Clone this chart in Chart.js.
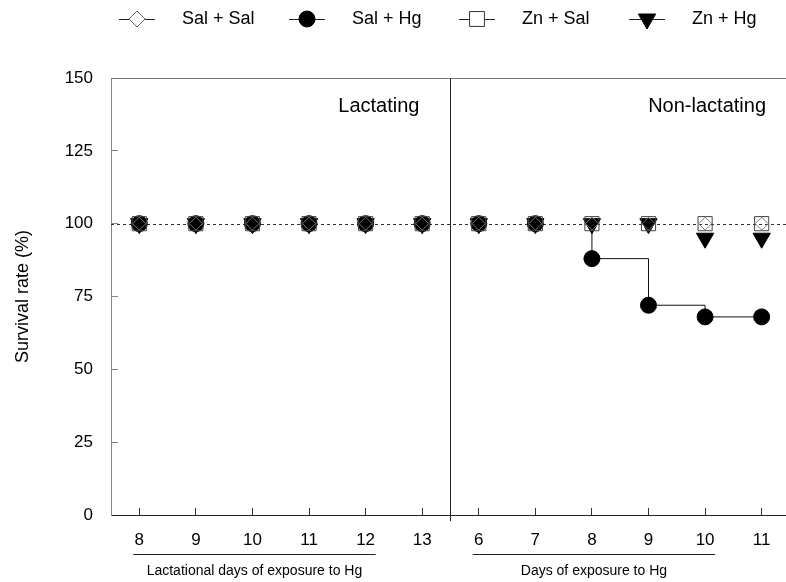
<!DOCTYPE html>
<html>
<head>
<meta charset="utf-8">
<script src="https://cdn.jsdelivr.net/npm/chart.js@4.4.0/dist/chart.umd.min.js"></script>
<style>
  html, body { margin: 0; padding: 0; background: #fff; overflow: hidden; }
</style>
</head>
<body>
<canvas id="c" width="786" height="582"></canvas>
<script>
// --- data ---
const dayLabels = ['8', '9', '10', '11', '12', '13', '6', '7', '8', '9', '10', '11'];
const salSal = [100, 100, 100, 100, 100, 100, 100, 100, 100, 100, 100, 100];
const salHg  = [100, 100, 100, 100, 100, 100, 100, 100, 88, 72, 68, 68];
const znSal  = [100, 100, 100, 100, 100, 100, 100, 100, 100, 100, 100, 100];
const znHg   = [100, 100, 100, 100, 100, 100, 100, 100, 100, 100, 95, 95];
const seriesNames = ['Sal + Sal', 'Sal + Hg', 'Zn + Sal', 'Zn + Hg'];
const panelNames = ['Lactating', 'Non-lactating'];
const axisCaptions = ['Lactational days of exposure to Hg', 'Days of exposure to Hg'];
const lactatingCount = 6;   // first six positions are the lactating panel
const controlLevel = 100;

const FONT = '"Liberation Sans", Arial, sans-serif';

const toXY = arr => arr.map((v, i) => ({ x: i, y: v }));

// step line for Sal + Hg starts where survival first drops in the right panel
let firstDrop = salHg.findIndex((v, i) => i >= lactatingCount && v < controlLevel);
let stepData = [{ x: firstDrop, y: salHg[firstDrop - 1] }]
    .concat(salHg.slice(firstDrop).map((v, k) => ({ x: firstDrop + k, y: v })));

const markers = [
    { pointStyle: 'rectRot', radius: 6.5, rotation: 0, bg: 'rgba(0,0,0,0)', border: '#777' },
    { pointStyle: 'circle', radius: 8, rotation: 0, bg: '#000', border: '#000' },
    { pointStyle: 'rect', radius: 10, rotation: 0, bg: 'rgba(0,0,0,0)', border: '#444' },
    { pointStyle: 'triangle', radius: 10, rotation: 180, bg: '#000', border: '#000' }
];
const legendMarkers = [
    { pointStyle: 'rectRot', radius: 8, rotation: 0, bg: '#fff', border: '#666' },
    { pointStyle: 'circle', radius: 8, rotation: 0, bg: '#000', border: '#000' },
    { pointStyle: 'rect', radius: 10.5, rotation: 0, bg: '#fff', border: '#333' },
    { pointStyle: 'triangle', radius: 10, rotation: 180, bg: '#000', border: '#000' }
];
const seriesData = [salSal, salHg, znSal, znHg];
const drawOrder = [0, 2, 1, 3];

function markerDataset(i) {
    let m = markers[i];
    return {
        label: seriesNames[i],
        data: toXY(seriesData[i]),
        showLine: false,
        pointStyle: m.pointStyle,
        pointRadius: m.radius,
        pointHoverRadius: m.radius,
        pointRotation: m.rotation,
        pointBackgroundColor: m.bg,
        pointBorderColor: m.border,
        pointBorderWidth: 1,
        order: drawOrder[i]
    };
}

function drawMarker(ctx, m, x, y) {
    ctx.save();
    ctx.fillStyle = m.bg;
    ctx.strokeStyle = m.border;
    ctx.lineWidth = 1;
    Chart.helpers.drawPoint(ctx, { pointStyle: m.pointStyle, rotation: m.rotation, radius: m.radius, borderWidth: 1 }, x, y);
    ctx.restore();
}

const decorPlugin = {
    id: 'decor',
    beforeDatasetsDraw(chart) {
        const { ctx, chartArea: a, scales: { x, y } } = chart;
        ctx.save();
        // top border
        ctx.strokeStyle = '#777';
        ctx.lineWidth = 1;
        ctx.beginPath();
        ctx.moveTo(a.left, Math.round(a.top) + 0.5);
        ctx.lineTo(a.right, Math.round(a.top) + 0.5);
        ctx.stroke();
        // panel divider
        let dx = Math.round(x.getPixelForValue(lactatingCount - 0.5)) + 0.5;
        ctx.strokeStyle = '#222';
        ctx.beginPath();
        ctx.moveTo(dx, a.top);
        ctx.lineTo(dx, a.bottom + 6);
        ctx.stroke();
        // control reference line
        let ry = Math.round(y.getPixelForValue(controlLevel)) + 0.5;
        ctx.setLineDash([3, 3]);
        ctx.strokeStyle = '#333';
        ctx.beginPath();
        ctx.moveTo(a.left, ry);
        ctx.lineTo(a.right, ry);
        ctx.stroke();
        ctx.restore();
    },
    afterDraw(chart) {
        const { ctx, chartArea: a, scales: { x } } = chart;
        ctx.save();
        ctx.fillStyle = '#000';
        ctx.textBaseline = 'middle';

        // legend
        ctx.font = '18px ' + FONT;
        seriesNames.forEach((name, i) => {
            let cx = 137 + i * 170;
            let cy = 19;
            ctx.strokeStyle = '#222';
            ctx.lineWidth = 1;
            ctx.beginPath();
            ctx.moveTo(cx - 18, cy + 0.5);
            ctx.lineTo(cx + 18, cy + 0.5);
            ctx.stroke();
            drawMarker(ctx, legendMarkers[i], cx, cy);
            ctx.fillStyle = '#000';
            ctx.textAlign = 'left';
            ctx.fillText(name, cx + 45, cy);
        });

        // panel titles
        let dx = x.getPixelForValue(lactatingCount - 0.5);
        ctx.font = '20px ' + FONT;
        ctx.textAlign = 'right';
        ctx.fillText(panelNames[0], dx - 31, 106);
        ctx.fillText(panelNames[1], a.right - 20, 106);

        // underlines + captions below the day labels
        let groups = [[0, 4], [lactatingCount, lactatingCount + 4]];
        ctx.font = '14px ' + FONT;
        ctx.textAlign = 'center';
        groups.forEach((g, i) => {
            let x0 = x.getPixelForValue(g[0]) - 6;
            let x1 = x.getPixelForValue(g[1]) + 10;
            ctx.strokeStyle = '#222';
            ctx.lineWidth = 1;
            ctx.beginPath();
            ctx.moveTo(x0, 554.5);
            ctx.lineTo(x1, 554.5);
            ctx.stroke();
            ctx.fillText(axisCaptions[i], (x0 + x1) / 2, 571);
        });
        ctx.restore();
    }
};

new Chart(document.getElementById('c'), {
    type: 'line',
    data: {
        datasets: [
            markerDataset(0),
            markerDataset(1),
            markerDataset(2),
            markerDataset(3),
            {
                label: 'Sal + Hg step',
                data: stepData,
                stepped: true,
                borderColor: '#111',
                borderWidth: 1,
                pointRadius: 0,
                pointHoverRadius: 0,
                fill: false,
                order: 4
            }
        ]
    },
    options: {
        responsive: false,
        animation: false,
        devicePixelRatio: 1,
        layout: { autoPadding: false, padding: { top: 78, right: 0, bottom: 0, left: 0 } },
        plugins: { legend: { display: false }, tooltip: { enabled: false } },
        scales: {
            x: {
                type: 'linear',
                min: -0.5,
                max: 11.43,
                afterFit: s => { s.height = 67; s.paddingRight = 0; s.paddingLeft = 0; },
                afterBuildTicks: s => { s.ticks = dayLabels.map((_, i) => ({ value: i })); },
                ticks: {
                    callback: (v) => dayLabels[v],
                    color: '#000',
                    font: { size: 17, family: FONT },
                    padding: 22,
                    maxRotation: 0,
                    autoSkip: false
                },
                grid: { drawOnChartArea: false, drawTicks: true, tickLength: -7, color: '#333' },
                border: { color: '#222', width: 1 }
            },
            y: {
                min: 0,
                max: 150,
                afterFit: s => { s.width = 111; },
                ticks: {
                    stepSize: 25,
                    color: '#000',
                    font: { size: 17, family: FONT },
                    padding: 25
                },
                title: {
                    display: true,
                    text: 'Survival rate (%)',
                    color: '#000',
                    font: { size: 18, family: FONT },
                    padding: { top: 12, bottom: 0 }
                },
                grid: { drawOnChartArea: false, drawTicks: true, tickLength: -7, color: '#888' },
                border: { color: '#888', width: 1 }
            }
        }
    },
    plugins: [decorPlugin]
});
</script>
</body>
</html>
